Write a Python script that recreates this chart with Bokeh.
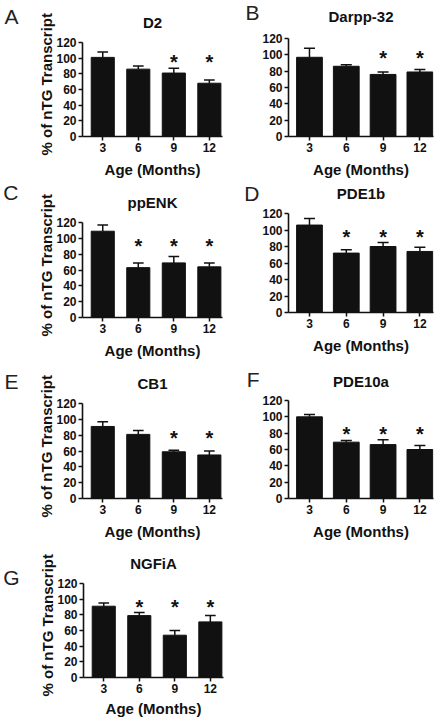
from bokeh.plotting import figure
from bokeh.models import Range1d, FixedTicker, LinearAxis, ColumnDataSource, Title
from bokeh.layouts import column, row
from bokeh.embed import file_html
from bokeh.resources import INLINE
from bokeh.core.properties import value

# ---------------- data ----------------
ages = ["3", "6", "9", "12"]
letters = ["A", "B", "C", "D", "E", "F", "G"]
genes = ["D2", "Darpp-32", "ppENK", "PDE1b", "CB1", "PDE10a", "NGFiA"]

d2_mean = [101, 86, 81, 68]
d2_sem = [7, 4, 6, 4]
d2_sig = [0, 0, 1, 1]

darpp_mean = [97, 86, 76, 79]
darpp_sem = [11, 2, 3, 3]
darpp_sig = [0, 0, 1, 1]

ppenk_mean = [109, 63, 69, 64]
ppenk_sem = [8, 6, 8, 5]
ppenk_sig = [0, 1, 1, 1]

pde1b_mean = [106, 72, 80, 74]
pde1b_sem = [8, 4, 5, 5]
pde1b_sig = [0, 1, 1, 1]

cb1_mean = [91, 81, 59, 55]
cb1_sem = [6, 5, 2, 5]
cb1_sig = [0, 0, 1, 1]

pde10a_mean = [100, 69, 66, 60]
pde10a_sem = [3, 2, 6, 5]
pde10a_sig = [0, 1, 1, 1]

ngfia_mean = [91, 79, 54, 71]
ngfia_sem = [4, 4, 6, 8]
ngfia_sig = [0, 1, 1, 1]

star_levels = [100, 101, 96, 96, 81, 84, 95]
y_ticks = [0, 20, 40, 60, 80, 100, 120]
Y_MAX = 120
y_title = "% of nTG Transcript"
x_title = "Age (Months)"

FONT = "Liberation Sans"
INK = "#111111"


def panel(i, mean, sem, sig, left_col, fig_h, top_px, zero_px,
          letter_px, title_gap, letter_standoff, xlab_standoff=6):
    """top_px: pixel of the 120 tick below the figure top,
    zero_px: pixel of the baseline below the figure top."""
    fw = 140 if left_col else 145
    bl = 82 if left_col else 54
    br = 12 if left_col else 8
    frame_h = zero_px
    ppu = (zero_px - top_px) / Y_MAX
    y_top = Y_MAX + top_px / ppu
    x0, x1 = -0.57, 3.37
    p = figure(frame_width=fw, frame_height=frame_h,
               min_border_left=bl, min_border_right=br,
               min_border_top=0, min_border_bottom=fig_h - frame_h,
               x_range=Range1d(x0, x1), y_range=Range1d(0, y_top),
               output_backend="svg", toolbar_location=None, tools="")
    p.outline_line_color = None
    p.grid.visible = False
    p.background_fill_color = "white"
    p.border_fill_color = "white"

    xs = list(range(len(ages)))
    bw = 0.65 if left_col else 0.70
    src = ColumnDataSource(dict(x=xs, top=mean,
                                hi=[m + e for m, e in zip(mean, sem)]))
    p.vbar(x="x", top="top", bottom=0, width=bw, source=src,
           fill_color=INK, line_color=INK)
    p.segment(x0="x", y0="top", x1="x", y1="hi", source=src,
              line_color=INK, line_width=1.5)
    cap = 0.15
    p.segment(x0=[x - cap for x in xs], y0=src.data["hi"],
              x1=[x + cap for x in xs], y1=src.data["hi"],
              line_color=INK, line_width=1.5)

    sx = [x for x, s in zip(xs, sig) if s]
    p.text(x=sx, y=[star_levels[i]] * len(sx), text=["*"] * len(sx),
           text_font=value(FONT), text_font_style="bold",
           text_font_size="20px", text_align="center",
           text_baseline="alphabetic", y_offset=4, text_color=INK)

    # panel title (gene name) above the 120 tick
    p.text(x=[(x0 + x1) / 2], y=[Y_MAX], text=[genes[i]],
           text_font=value(FONT), text_font_style="bold",
           text_font_size="15px", text_align="center",
           text_baseline="middle", y_offset=-title_gap, text_color=INK)

    # axes
    for ax in (p.xaxis[0], p.yaxis[0]):
        ax.axis_line_color = INK
        ax.axis_line_width = 1.6
        ax.major_tick_line_color = INK
        ax.major_tick_line_width = 1.5
        ax.major_tick_out = 4
        ax.major_tick_in = 0
        ax.minor_tick_line_color = None
        ax.major_label_text_font = FONT
        ax.major_label_text_font_style = "bold"
        ax.major_label_text_font_size = "12px"
        ax.major_label_text_color = INK
        ax.axis_label_text_font = FONT
        ax.axis_label_text_font_style = "bold"
        ax.axis_label_text_font_size = "15px"
        ax.axis_label_text_color = INK

    p.xaxis.ticker = FixedTicker(ticks=xs)
    p.xaxis.major_label_overrides = {x: a for x, a in zip(xs, ages)}
    p.xaxis.axis_label = x_title
    p.xaxis.major_label_standoff = 2
    p.xaxis.axis_label_standoff = xlab_standoff

    p.yaxis.ticker = FixedTicker(ticks=y_ticks)
    p.yaxis.bounds = (0, Y_MAX)
    p.yaxis.major_label_standoff = 2

    if left_col:
        # y title placed beside the 0..120 part of the axis
        p.add_layout(Title(text=y_title, align="left", offset=-19,
                           standoff=-2, text_font=FONT,
                           text_font_style="bold", text_font_size="15px",
                           text_color=INK), "left")

    # panel letter, carried by a bare axis on the left
    letter_val = round(Y_MAX + (top_px - letter_px) / ppu, 3)
    lax = LinearAxis(ticker=FixedTicker(ticks=[letter_val]),
                     major_label_overrides={letter_val: letters[i]},
                     axis_line_color=None, major_tick_line_color=None,
                     minor_tick_line_color=None, major_tick_out=0,
                     major_tick_in=0, major_label_standoff=letter_standoff,
                     major_label_text_font=FONT,
                     major_label_text_font_size="21px",
                     major_label_text_color="#222222")
    p.add_layout(lax, "left")
    return p


pa = panel(0, d2_mean, d2_sem, d2_sig, True, 180, 42, 136, 16, 20, 18)
pb = panel(1, darpp_mean, darpp_sem, darpp_sig, False, 180, 38, 136, 12, 22, 0)
pc = panel(2, ppenk_mean, ppenk_sem, ppenk_sig, True, 180, 42, 137, 12, 20, 18)
pd = panel(3, pde1b_mean, pde1b_sem, pde1b_sig, False, 180, 33, 132, 10, 20, 0)
pe = panel(4, cb1_mean, cb1_sem, cb1_sig, True, 180, 42, 137, 20, 20, 18)
pf = panel(5, pde10a_mean, pde10a_sem, pde10a_sig, False, 180, 39, 137, 18, 19, 0)
pg = panel(6, ngfia_mean, ngfia_sem, ngfia_sig, True, 179, 41, 135, 35, 20, 18, 4)

layout = column(row(pa, pb), row(pc, pd), row(pe, pf), row(pg))

with open("out.html", "w") as f:
    f.write(file_html(layout, INLINE))
